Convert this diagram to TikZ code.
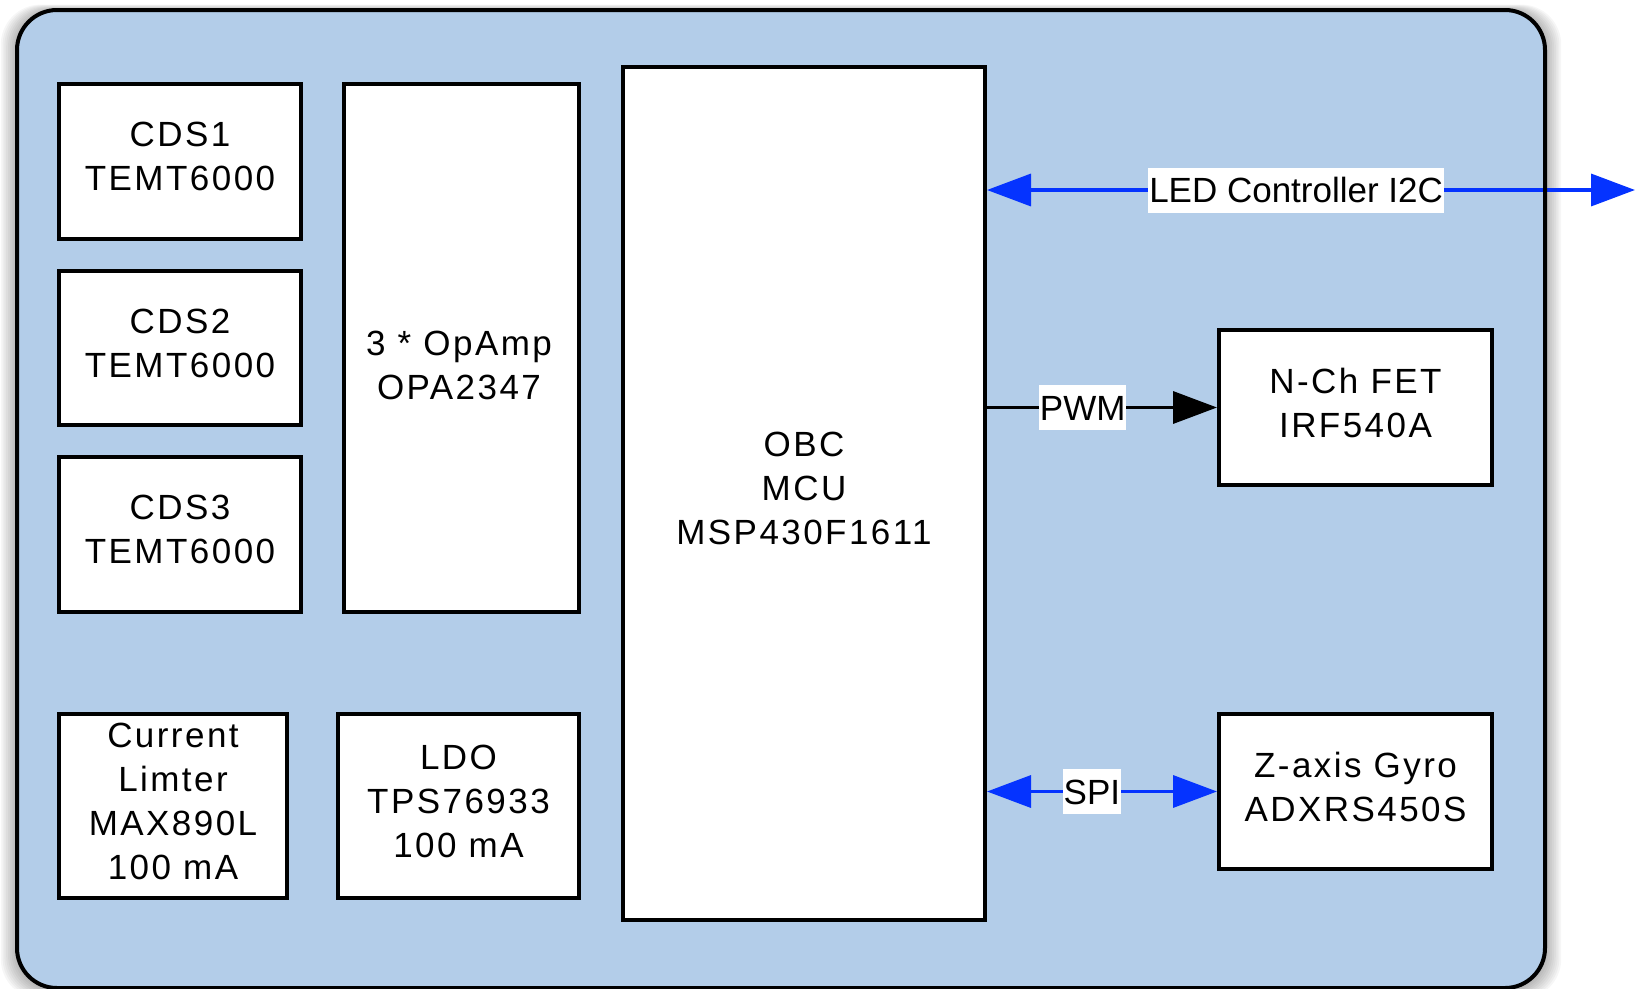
\documentclass[tikz,border=0pt]{standalone}
\usepackage{fontspec}
\setmainfont{Liberation Sans}
\newfontfamily\boxfont[LetterSpace=7]{Liberation Sans}
\usetikzlibrary{arrows.meta}
\definecolor{panel}{RGB}{179,205,233}
\definecolor{linkblue}{RGB}{5,51,255}
\begin{document}
\begin{tikzpicture}[x=1pt,y=-1pt,
  blk/.style={draw=black, fill=white, line width=4pt, align=center,
    font=\boxfont\fontsize{35pt}{44pt}\selectfont, inner sep=0pt, text depth=10pt},
  lab/.style={fill=white, font=\fontsize{35pt}{42pt}\selectfont, inner xsep=1pt,
    inner ysep=6pt, text height=29pt, text depth=4pt},
  link/.style={line width=3.5pt, draw=linkblue, {Triangle[length=44pt,width=32pt,fill=linkblue]}-{Triangle[length=44pt,width=32pt,fill=linkblue]}},
  ctl/.style={line width=3.5pt, draw=black, -{Triangle[length=44pt,width=32pt]}}
]
\useasboundingbox (0,0) rectangle (1635,988);
% shadow
\foreach \i in {1,...,9}
  \fill[black, opacity=0.035, rounded corners=40pt]
    ({17-\i*1.8},{10-\i*0.6}) rectangle ({1545+\i*1.8},{990+\i});
% panel
\fill[panel, rounded corners=40pt] (17,10) rectangle (1545,988);

% blocks
\node[blk, minimum width=242pt, minimum height=155pt] (cds1) at (180,161.5) {CDS1\\TEMT6000};
\node[blk, minimum width=242pt, minimum height=154pt] (cds2) at (180,348) {CDS2\\TEMT6000};
\node[blk, minimum width=242pt, minimum height=155pt] (cds3) at (180,534.5) {CDS3\\TEMT6000};
\node[blk, minimum width=235pt, minimum height=528pt] (opamp) at (461.5,348) {};
\node[align=center, font=\boxfont\fontsize{35pt}{44pt}\selectfont, inner sep=0pt] (opamptxt) at (459,365) {3 * OpAmp\\OPA2347};
\node[blk, minimum width=362pt, minimum height=853pt] (obc) at (804,493.5) {OBC\\MCU\\MSP430F1611};
\node[blk, minimum width=228pt, minimum height=184pt] (lim) at (173,806) {Current\\Limter\\MAX890L\\100 mA};
\node[blk, minimum width=241pt, minimum height=184pt] (ldo) at (458.5,806) {LDO\\TPS76933\\100 mA};
\node[blk, minimum width=273pt, minimum height=155pt] (fet) at (1355.5,407.5) {N-Ch FET\\IRF540A};
\node[blk, minimum width=273pt, minimum height=155pt] (gyro) at (1355.5,791.5) {Z-axis Gyro\\ADXRS450S};

% connectors
\coordinate (i2cend) at (1635,190);
\draw[link] (obc.east |- i2cend) -- node[lab, pos=0.477] (i2clab) {LED Controller I2C} (i2cend);
\draw[ctl] (obc.east |- fet.west) -- node[lab, pos=0.416] (pwmlab) {PWM} (fet.west);
\draw[link] (obc.east |- gyro.west) -- node[lab, pos=0.456] (spilab) {SPI} (gyro.west);

% panel border on top
\draw[line width=4pt, rounded corners=40pt] (17,10) rectangle (1545,988);
\end{tikzpicture}
\end{document}
